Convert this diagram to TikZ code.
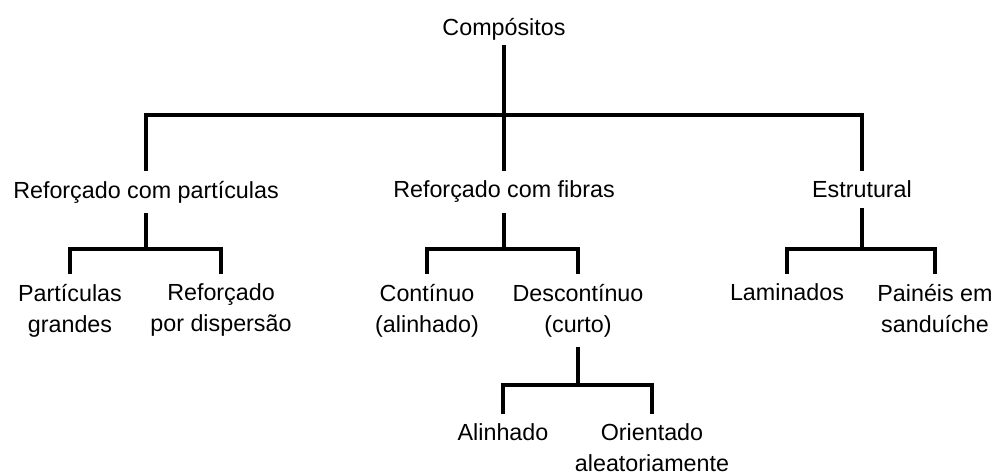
\documentclass[tikz,border=0pt]{standalone}
\usepackage{fontspec}
\setmainfont{Liberation Sans}
\usepackage{tikz}

\begin{document}
\begin{tikzpicture}[x=0.5pt, y=-0.5pt,
        box/.style={anchor=north, inner sep=0pt, outer xsep=0pt, outer ysep=5pt, align=center, font=\fontsize{11.65}{15.5}\selectfont},
        link/.style={line width=1.8pt, line join=miter}]
        \useasboundingbox (0,0) rectangle (996,475);

        % Top level
        \node[box, outer ysep=2.5pt] (comp) at (504,13) {Compósitos};

        % Second level
        \node[box] (part) at (146,171) {Reforçado com partículas};
        \node[box] (fib) at (504,171) {Reforçado com fibras};
        \node[box] (estr) at (862,171) {Estrutural};

        % Third level
        \node[box] (grand) at (70,274) {Partículas\\grandes};
        \node[box] (disp) at (221,274) {Reforçado\\por dispersão};
        \node[box] (cont) at (427,274) {Contínuo\\(alinhado)};
        \node[box] (desc) at (578,274) {Descontínuo\\(curto)};
        \node[box] (lam) at (787,274) {Laminados};
        \node[box] (sand) at (935,274) {Painéis em\\sanduíche};

        % Fourth level
        \node[box] (alin) at (503,414) {Alinhado};
        \node[box] (orie) at (652,414) {Orientado\\aleatoriamente};

        % Junctions
        \coordinate (jtop) at (comp.south |- 0,115);
        \coordinate (jpart) at (part.south |- 0,249);
        \coordinate (jfib) at (fib.south |- 0,249);
        \coordinate (jestr) at (estr.south |- 0,249);
        \coordinate (jdesc) at (desc.south |- 0,385);

        % Connectors
        \draw[link] (comp.south) -- (fib.north);
        \draw[link] (part.north) |- (jtop) -| (estr.north);

        \draw[link] (part.south) -- (jpart);
        \draw[link] (grand.north) |- (jpart) -| (disp.north);

        \draw[link] (fib.south) -- (jfib);
        \draw[link] (cont.north) |- (jfib) -| (desc.north);

        \draw[link] (estr.south) -- (jestr);
        \draw[link] (lam.north) |- (jestr) -| (sand.north);

        \draw[link] (desc.south) -- (jdesc);
        \draw[link] (alin.north) |- (jdesc) -| (orie.north);
\end{tikzpicture}
\end{document}
